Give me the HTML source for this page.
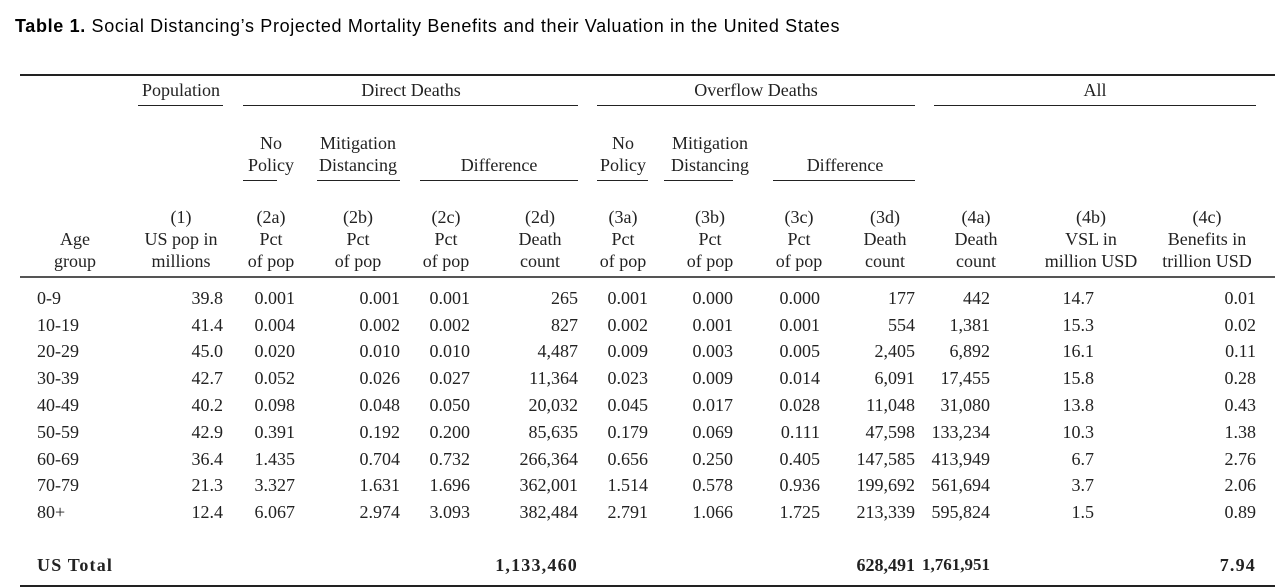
<!DOCTYPE html>
<html><head><meta charset="utf-8"><style>
body{margin:0;width:1280px;height:588px;background:#fff;overflow:hidden;position:relative;font-family:"Liberation Serif",serif;color:#222}
.t{position:absolute;font-size:18px;line-height:20px;white-space:nowrap}
.c{transform:translateX(-50%);text-align:center}
.r{transform:translateX(-100%);text-align:right}
.ln{position:absolute;background:#222;height:1px}
.b{font-weight:bold;letter-spacing:1.2px}
.bs{letter-spacing:0px}
.bn{letter-spacing:0px;font-size:17px}
</style></head><body>
<div class="t" style="left:15px;top:16px;font-family:'Liberation Sans',sans-serif;font-size:18px;letter-spacing:0.65px;color:#000"><b>Table 1.</b> Social Distancing’s Projected Mortality Benefits and their Valuation in the United States</div>
<div class="ln" style="left:20px;width:1255px;top:74px;height:2px"></div>
<div class="ln" style="left:20px;width:1255px;top:276px;height:2px;background:#555"></div>
<div class="ln" style="left:20px;width:1255px;top:585px;height:2px"></div>
<div id="tbl"></div>
<script>
const groups=[["Population",181,138,223],["Direct Deaths",411,243,578],["Overflow Deaths",756,597,915],["All",1095,934,1256]];
const subgroups=[[["No","Policy"],271,243,277],[["Mitigation","Distancing"],358,317,400],[["","Difference"],499,420,578],[["No","Policy"],623,597,648],[["Mitigation","Distancing"],710,664,733],[["","Difference"],845,773,915]];
const colHeads=[["","Age","group"],["(1)","US pop in","millions"],["(2a)","Pct","of pop"],["(2b)","Pct","of pop"],["(2c)","Pct","of pop"],["(2d)","Death","count"],["(3a)","Pct","of pop"],["(3b)","Pct","of pop"],["(3c)","Pct","of pop"],["(3d)","Death","count"],["(4a)","Death","count"],["(4b)","VSL in","million USD"],["(4c)","Benefits in","trillion USD"]];
const headCenters=[75,181,271,358,446,540,623,710,799,885,976,1091,1207];
const rightEdges=[0,223,295,400,470,578,648,733,820,915,990,1094,1256];
const ages=["0-9","10-19","20-29","30-39","40-49","50-59","60-69","70-79","80+"];
const rows=[
["39.8","0.001","0.001","0.001","265","0.001","0.000","0.000","177","442","14.7","0.01"],
["41.4","0.004","0.002","0.002","827","0.002","0.001","0.001","554","1,381","15.3","0.02"],
["45.0","0.020","0.010","0.010","4,487","0.009","0.003","0.005","2,405","6,892","16.1","0.11"],
["42.7","0.052","0.026","0.027","11,364","0.023","0.009","0.014","6,091","17,455","15.8","0.28"],
["40.2","0.098","0.048","0.050","20,032","0.045","0.017","0.028","11,048","31,080","13.8","0.43"],
["42.9","0.391","0.192","0.200","85,635","0.179","0.069","0.111","47,598","133,234","10.3","1.38"],
["36.4","1.435","0.704","0.732","266,364","0.656","0.250","0.405","147,585","413,949","6.7","2.76"],
["21.3","3.327","1.631","1.696","362,001","1.514","0.578","0.936","199,692","561,694","3.7","2.06"],
["12.4","6.067","2.974","3.093","382,484","2.791","1.066","1.725","213,339","595,824","1.5","0.89"]];
const totals=["","","","","1,133,460","","","","628,491","1,761,951","","7.94"];
const T=document.getElementById('tbl');
function txt(s,x,y,cls){const d=document.createElement('div');d.className='t '+cls;d.style.left=x+'px';d.style.top=(y-10)+'px';d.textContent=s;T.appendChild(d);return d;}
function line(x1,x2,y){const d=document.createElement('div');d.className='ln';d.style.left=x1+'px';d.style.width=(x2-x1)+'px';d.style.top=y+'px';T.appendChild(d);return d;}
groups.forEach(g=>{const d=txt(g[0],g[1],90,'c');


const l=line(g[2],g[3],105);

});
subgroups.forEach(g=>{const a=txt(g[0][0],g[1],143,'c');


const b=txt(g[0][1],g[1],165,'c');


const l=line(g[2],g[3],180);

});
colHeads.forEach((h,i)=>{h.forEach((s,j)=>{if(!s)return;const d=txt(s,headCenters[i],217+j*22,'c');

});});
const rowY=[298,325,351,378,405,432,459,485,512];
ages.forEach((a,i)=>{const d=txt(a,37,rowY[i],'');


rows[i].forEach((v,k)=>{const c=txt(v,rightEdges[k+1],rowY[i],'r');

});});
const tl=txt('US Total',37,565,'b');


totals.forEach((v,k)=>{if(!v)return;const cls=k===8?'r b bs':(k===9?'r b bn':'r b');const c=txt(v,rightEdges[k+1],565,cls);

});
</script>
</body></html>
